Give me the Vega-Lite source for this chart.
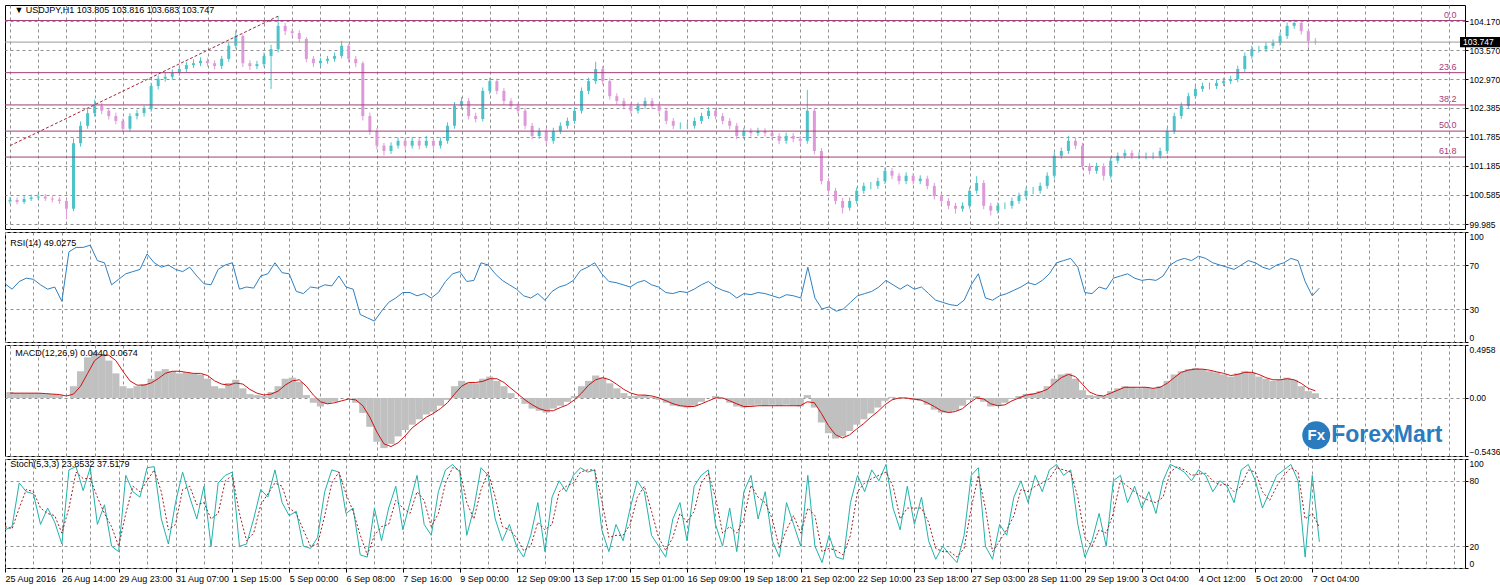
{
"$schema": "https://vega.github.io/schema/vega-lite/v6.json",
"background": "white",
"padding": {"left": 2, "top": 4, "right": 0, "bottom": 0},
"spacing": 3,
"bounds": "flush",
"config": {
  "view": {"stroke": "#000000", "strokeWidth": 1},
  "axis": {"labelFont": "Liberation Sans", "labelFontSize": 9, "labelColor": "#000000", "tickColor": "#000000", "tickSize": 3, "domain": false, "gridColor": "#909090", "gridDash": [3,3], "gridWidth": 1, "gridOpacity": 1, "labelPadding": 1, "tickCount": 200},
  "text": {"font": "Liberation Sans", "fontSize": 9, "color": "#000000"}
},
"datasets": {
  "bars": [
{"i":0,"o":100.45,"h":100.54,"l":100.40,"c":100.48,"rsi":53,"macd":0.055,"sig":0.045,"k":35,"d":38},
{"i":4,"o":100.48,"h":100.53,"l":100.39,"c":100.44,"rsi":48,"macd":0.045,"sig":0.045,"k":38,"d":36},
{"i":8,"o":100.44,"h":100.56,"l":100.40,"c":100.50,"rsi":55,"macd":0.045,"sig":0.045,"k":78,"d":55},
{"i":12,"o":100.50,"h":100.59,"l":100.46,"c":100.53,"rsi":58,"macd":0.045,"sig":0.045,"k":70,"d":72},
{"i":16,"o":100.53,"h":100.61,"l":100.48,"c":100.55,"rsi":57,"macd":0.045,"sig":0.045,"k":68,"d":70},
{"i":20,"o":100.55,"h":100.60,"l":100.46,"c":100.51,"rsi":52,"macd":0.036,"sig":0.041,"k":40,"d":55},
{"i":24,"o":100.51,"h":100.56,"l":100.43,"c":100.49,"rsi":48,"macd":0.036,"sig":0.036,"k":55,"d":50},
{"i":28,"o":100.49,"h":100.54,"l":100.40,"c":100.46,"rsi":50,"macd":0.027,"sig":0.032,"k":42,"d":48},
{"i":32,"o":100.46,"h":100.50,"l":100.08,"c":100.30,"rsi":37,"macd":0,"sig":0.018,"k":22,"d":32},
{"i":36,"o":100.30,"h":101.75,"l":100.25,"c":101.65,"rsi":82,"macd":0.11,"sig":0.036,"k":90,"d":55},
{"i":40,"o":101.65,"h":102.10,"l":101.58,"c":102.01,"rsi":86,"macd":0.25,"sig":0.11,"k":93,"d":88},
{"i":44,"o":102.01,"h":102.35,"l":101.95,"c":102.27,"rsi":86,"macd":0.38,"sig":0.23,"k":71,"d":82},
{"i":48,"o":102.27,"h":102.55,"l":102.20,"c":102.42,"rsi":88,"macd":0.43,"sig":0.35,"k":92,"d":82},
{"i":52,"o":102.42,"h":102.48,"l":102.25,"c":102.32,"rsi":74,"macd":0.41,"sig":0.40,"k":40,"d":65},
{"i":56,"o":102.32,"h":102.38,"l":102.14,"c":102.21,"rsi":72,"macd":0.35,"sig":0.40,"k":58,"d":50},
{"i":60,"o":102.21,"h":102.28,"l":102.04,"c":102.11,"rsi":52,"macd":0.23,"sig":0.35,"k":20,"d":38},
{"i":64,"o":102.11,"h":102.16,"l":101.88,"c":101.95,"rsi":57,"macd":0.11,"sig":0.25,"k":15,"d":20},
{"i":68,"o":101.95,"h":102.27,"l":101.90,"c":102.21,"rsi":62,"macd":0.09,"sig":0.16,"k":85,"d":50},
{"i":72,"o":102.21,"h":102.34,"l":102.14,"c":102.27,"rsi":64,"macd":0.11,"sig":0.12,"k":70,"d":75},
{"i":76,"o":102.27,"h":102.43,"l":102.20,"c":102.36,"rsi":66,"macd":0.13,"sig":0.12,"k":65,"d":70},
{"i":80,"o":102.36,"h":102.90,"l":102.30,"c":102.83,"rsi":80,"macd":0.18,"sig":0.14,"k":92,"d":80},
{"i":84,"o":102.83,"h":103.05,"l":102.76,"c":102.98,"rsi":72,"macd":0.25,"sig":0.18,"k":93,"d":90},
{"i":88,"o":102.98,"h":103.10,"l":102.92,"c":103.02,"rsi":68,"macd":0.27,"sig":0.23,"k":45,"d":70},
{"i":92,"o":103.02,"h":103.17,"l":102.96,"c":103.10,"rsi":70,"macd":0.25,"sig":0.25,"k":22,"d":35},
{"i":96,"o":103.10,"h":103.25,"l":103.04,"c":103.18,"rsi":66,"macd":0.23,"sig":0.25,"k":60,"d":40},
{"i":100,"o":103.18,"h":103.33,"l":103.12,"c":103.26,"rsi":64,"macd":0.24,"sig":0.24,"k":88,"d":72},
{"i":104,"o":103.26,"h":103.38,"l":103.20,"c":103.30,"rsi":68,"macd":0.23,"sig":0.23,"k":65,"d":75},
{"i":108,"o":103.30,"h":103.42,"l":103.24,"c":103.35,"rsi":60,"macd":0.22,"sig":0.23,"k":45,"d":58},
{"i":112,"o":103.35,"h":103.41,"l":103.23,"c":103.30,"rsi":53,"macd":0.18,"sig":0.21,"k":75,"d":60},
{"i":116,"o":103.30,"h":103.36,"l":103.17,"c":103.24,"rsi":52,"macd":0.11,"sig":0.16,"k":20,"d":45},
{"i":120,"o":103.24,"h":103.45,"l":103.18,"c":103.39,"rsi":66,"macd":0.09,"sig":0.13,"k":78,"d":50},
{"i":124,"o":103.39,"h":103.73,"l":103.33,"c":103.66,"rsi":70,"macd":0.14,"sig":0.12,"k":85,"d":80},
{"i":128,"o":103.66,"h":103.98,"l":103.60,"c":103.86,"rsi":72,"macd":0.17,"sig":0.14,"k":88,"d":85},
{"i":132,"o":103.86,"h":103.90,"l":103.22,"c":103.30,"rsi":48,"macd":0.09,"sig":0.13,"k":20,"d":50},
{"i":136,"o":103.30,"h":103.36,"l":103.16,"c":103.24,"rsi":50,"macd":0.036,"sig":0.08,"k":22,"d":25},
{"i":140,"o":103.24,"h":103.35,"l":103.18,"c":103.28,"rsi":49,"macd":0.027,"sig":0.045,"k":45,"d":32},
{"i":144,"o":103.28,"h":103.52,"l":103.22,"c":103.45,"rsi":60,"macd":0.018,"sig":0.027,"k":72,"d":58},
{"i":148,"o":103.45,"h":103.68,"l":102.77,"c":103.59,"rsi":62,"macd":0.055,"sig":0.036,"k":65,"d":68},
{"i":152,"o":103.59,"h":104.27,"l":103.52,"c":104.07,"rsi":72,"macd":0.11,"sig":0.064,"k":90,"d":78},
{"i":156,"o":104.07,"h":104.13,"l":103.88,"c":103.96,"rsi":63,"macd":0.18,"sig":0.12,"k":60,"d":75},
{"i":160,"o":103.96,"h":104.02,"l":103.85,"c":103.92,"rsi":62,"macd":0.19,"sig":0.16,"k":48,"d":55},
{"i":164,"o":103.92,"h":103.98,"l":103.72,"c":103.80,"rsi":46,"macd":0.15,"sig":0.17,"k":52,"d":50},
{"i":168,"o":103.80,"h":103.84,"l":103.32,"c":103.39,"rsi":44,"macd":0.027,"sig":0.11,"k":20,"d":35},
{"i":172,"o":103.39,"h":103.45,"l":103.22,"c":103.30,"rsi":50,"macd":-0.045,"sig":0.027,"k":18,"d":20},
{"i":176,"o":103.30,"h":103.41,"l":103.24,"c":103.35,"rsi":49,"macd":-0.08,"sig":-0.036,"k":28,"d":22},
{"i":180,"o":103.35,"h":103.45,"l":103.29,"c":103.39,"rsi":52,"macd":-0.055,"sig":-0.055,"k":70,"d":48},
{"i":184,"o":103.39,"h":103.52,"l":103.33,"c":103.45,"rsi":51,"macd":-0.036,"sig":-0.045,"k":90,"d":78},
{"i":188,"o":103.45,"h":103.76,"l":103.40,"c":103.66,"rsi":60,"macd":0,"sig":-0.027,"k":88,"d":88},
{"i":192,"o":103.66,"h":103.70,"l":103.32,"c":103.39,"rsi":50,"macd":0,"sig":-0.01,"k":50,"d":68},
{"i":196,"o":103.39,"h":103.45,"l":103.22,"c":103.30,"rsi":48,"macd":-0.045,"sig":-0.018,"k":55,"d":52},
{"i":200,"o":103.30,"h":103.34,"l":102.12,"c":102.21,"rsi":25,"macd":-0.14,"sig":-0.073,"k":12,"d":30},
{"i":204,"o":102.21,"h":102.28,"l":101.82,"c":101.90,"rsi":22,"macd":-0.27,"sig":-0.18,"k":10,"d":12},
{"i":208,"o":101.90,"h":101.96,"l":101.52,"c":101.60,"rsi":19,"macd":-0.41,"sig":-0.32,"k":55,"d":30},
{"i":212,"o":101.60,"h":101.66,"l":101.40,"c":101.49,"rsi":28,"macd":-0.47,"sig":-0.43,"k":25,"d":38},
{"i":216,"o":101.49,"h":101.67,"l":101.43,"c":101.60,"rsi":36,"macd":-0.43,"sig":-0.455,"k":55,"d":40},
{"i":220,"o":101.60,"h":101.77,"l":101.54,"c":101.70,"rsi":40,"macd":-0.36,"sig":-0.42,"k":75,"d":62},
{"i":224,"o":101.70,"h":101.76,"l":101.53,"c":101.60,"rsi":45,"macd":-0.30,"sig":-0.355,"k":35,"d":55},
{"i":228,"o":101.60,"h":101.78,"l":101.54,"c":101.70,"rsi":45,"macd":-0.25,"sig":-0.28,"k":60,"d":50},
{"i":232,"o":101.70,"h":101.76,"l":101.52,"c":101.60,"rsi":42,"macd":-0.20,"sig":-0.23,"k":85,"d":70},
{"i":236,"o":101.60,"h":101.80,"l":101.55,"c":101.70,"rsi":44,"macd":-0.155,"sig":-0.18,"k":40,"d":62},
{"i":240,"o":101.70,"h":101.76,"l":101.53,"c":101.60,"rsi":40,"macd":-0.13,"sig":-0.145,"k":30,"d":38},
{"i":244,"o":101.60,"h":101.77,"l":101.54,"c":101.70,"rsi":45,"macd":-0.073,"sig":-0.10,"k":70,"d":50},
{"i":248,"o":101.70,"h":102.08,"l":101.64,"c":102.01,"rsi":55,"macd":-0.018,"sig":-0.045,"k":90,"d":78},
{"i":252,"o":102.01,"h":102.50,"l":101.95,"c":102.42,"rsi":62,"macd":0.11,"sig":0.036,"k":95,"d":92},
{"i":256,"o":102.42,"h":102.60,"l":102.35,"c":102.52,"rsi":64,"macd":0.16,"sig":0.11,"k":88,"d":90},
{"i":260,"o":102.52,"h":102.58,"l":102.14,"c":102.21,"rsi":55,"macd":0.145,"sig":0.145,"k":30,"d":60},
{"i":264,"o":102.21,"h":102.28,"l":102.08,"c":102.15,"rsi":56,"macd":0.137,"sig":0.145,"k":55,"d":45},
{"i":268,"o":102.15,"h":102.80,"l":102.10,"c":102.73,"rsi":72,"macd":0.18,"sig":0.155,"k":92,"d":72},
{"i":272,"o":102.73,"h":103.00,"l":102.66,"c":102.93,"rsi":70,"macd":0.20,"sig":0.18,"k":85,"d":88},
{"i":276,"o":102.93,"h":102.98,"l":102.66,"c":102.73,"rsi":62,"macd":0.16,"sig":0.18,"k":45,"d":65},
{"i":280,"o":102.73,"h":102.79,"l":102.45,"c":102.52,"rsi":56,"macd":0.11,"sig":0.145,"k":25,"d":38},
{"i":284,"o":102.52,"h":102.58,"l":102.35,"c":102.42,"rsi":52,"macd":0.045,"sig":0.09,"k":40,"d":35},
{"i":288,"o":102.42,"h":102.48,"l":102.25,"c":102.32,"rsi":48,"macd":0,"sig":0.036,"k":20,"d":28},
{"i":292,"o":102.32,"h":102.38,"l":101.94,"c":102.01,"rsi":42,"macd":-0.055,"sig":-0.018,"k":10,"d":16},
{"i":296,"o":102.01,"h":102.07,"l":101.73,"c":101.80,"rsi":40,"macd":-0.10,"sig":-0.064,"k":30,"d":20},
{"i":300,"o":101.80,"h":101.97,"l":101.74,"c":101.90,"rsi":44,"macd":-0.12,"sig":-0.10,"k":60,"d":42},
{"i":304,"o":101.90,"h":101.96,"l":101.62,"c":101.70,"rsi":38,"macd":-0.137,"sig":-0.12,"k":15,"d":35},
{"i":308,"o":101.70,"h":101.97,"l":101.64,"c":101.90,"rsi":46,"macd":-0.10,"sig":-0.12,"k":65,"d":40},
{"i":312,"o":101.90,"h":102.08,"l":101.84,"c":102.01,"rsi":50,"macd":-0.073,"sig":-0.09,"k":80,"d":70},
{"i":316,"o":102.01,"h":102.18,"l":101.95,"c":102.11,"rsi":52,"macd":-0.036,"sig":-0.064,"k":70,"d":75},
{"i":320,"o":102.11,"h":102.39,"l":102.05,"c":102.32,"rsi":56,"macd":0.018,"sig":-0.018,"k":85,"d":78},
{"i":324,"o":102.32,"h":102.80,"l":102.26,"c":102.73,"rsi":65,"macd":0.11,"sig":0.045,"k":92,"d":88},
{"i":328,"o":102.73,"h":103.00,"l":102.66,"c":102.93,"rsi":68,"macd":0.16,"sig":0.12,"k":88,"d":90},
{"i":332,"o":102.93,"h":103.33,"l":102.87,"c":103.18,"rsi":72,"macd":0.21,"sig":0.17,"k":90,"d":90},
{"i":336,"o":103.18,"h":103.24,"l":102.86,"c":102.93,"rsi":62,"macd":0.19,"sig":0.19,"k":35,"d":62},
{"i":340,"o":102.93,"h":102.99,"l":102.55,"c":102.62,"rsi":55,"macd":0.137,"sig":0.17,"k":15,"d":28},
{"i":344,"o":102.62,"h":102.68,"l":102.45,"c":102.52,"rsi":54,"macd":0.09,"sig":0.127,"k":40,"d":30},
{"i":348,"o":102.52,"h":102.58,"l":102.35,"c":102.42,"rsi":52,"macd":0.045,"sig":0.08,"k":25,"d":30},
{"i":352,"o":102.42,"h":102.48,"l":102.25,"c":102.32,"rsi":50,"macd":0.018,"sig":0.045,"k":55,"d":40},
{"i":356,"o":102.32,"h":102.49,"l":102.26,"c":102.42,"rsi":54,"macd":0.018,"sig":0.027,"k":80,"d":65},
{"i":360,"o":102.42,"h":102.59,"l":102.36,"c":102.52,"rsi":56,"macd":0.027,"sig":0.027,"k":70,"d":75},
{"i":364,"o":102.52,"h":102.58,"l":102.35,"c":102.42,"rsi":52,"macd":0.01,"sig":0.018,"k":30,"d":52},
{"i":368,"o":102.42,"h":102.48,"l":102.25,"c":102.32,"rsi":50,"macd":-0.018,"sig":0,"k":20,"d":28},
{"i":372,"o":102.32,"h":102.38,"l":102.04,"c":102.11,"rsi":45,"macd":-0.045,"sig":-0.027,"k":10,"d":16},
{"i":376,"o":102.11,"h":102.17,"l":101.94,"c":102.01,"rsi":44,"macd":-0.073,"sig":-0.055,"k":45,"d":28},
{"i":380,"o":102.01,"h":102.08,"l":101.94,"c":102.01,"rsi":46,"macd":-0.08,"sig":-0.073,"k":60,"d":50},
{"i":384,"o":102.01,"h":102.08,"l":101.94,"c":102.01,"rsi":45,"macd":-0.09,"sig":-0.08,"k":25,"d":42},
{"i":388,"o":102.01,"h":102.18,"l":101.95,"c":102.11,"rsi":48,"macd":-0.073,"sig":-0.08,"k":75,"d":52},
{"i":392,"o":102.11,"h":102.28,"l":102.05,"c":102.21,"rsi":52,"macd":-0.036,"sig":-0.055,"k":85,"d":78},
{"i":396,"o":102.21,"h":102.39,"l":102.15,"c":102.32,"rsi":55,"macd":0,"sig":-0.027,"k":90,"d":87},
{"i":400,"o":102.32,"h":102.38,"l":102.14,"c":102.21,"rsi":50,"macd":0.018,"sig":0,"k":40,"d":65},
{"i":404,"o":102.21,"h":102.27,"l":102.04,"c":102.11,"rsi":47,"macd":-0.01,"sig":0,"k":20,"d":32},
{"i":408,"o":102.11,"h":102.17,"l":101.94,"c":102.01,"rsi":45,"macd":-0.045,"sig":-0.027,"k":55,"d":38},
{"i":412,"o":102.01,"h":102.07,"l":101.73,"c":101.80,"rsi":40,"macd":-0.08,"sig":-0.055,"k":15,"d":32},
{"i":416,"o":101.80,"h":101.97,"l":101.74,"c":101.90,"rsi":44,"macd":-0.09,"sig":-0.08,"k":70,"d":45},
{"i":420,"o":101.90,"h":101.96,"l":101.79,"c":101.86,"rsi":43,"macd":-0.073,"sig":-0.08,"k":85,"d":76},
{"i":424,"o":101.86,"h":101.97,"l":101.80,"c":101.90,"rsi":45,"macd":-0.064,"sig":-0.073,"k":45,"d":65},
{"i":428,"o":101.90,"h":101.96,"l":101.79,"c":101.86,"rsi":44,"macd":-0.073,"sig":-0.073,"k":70,"d":60},
{"i":432,"o":101.86,"h":101.92,"l":101.73,"c":101.80,"rsi":42,"macd":-0.064,"sig":-0.073,"k":25,"d":45},
{"i":436,"o":101.80,"h":101.86,"l":101.63,"c":101.70,"rsi":40,"macd":-0.073,"sig":-0.073,"k":10,"d":18},
{"i":440,"o":101.70,"h":101.87,"l":101.64,"c":101.80,"rsi":43,"macd":-0.064,"sig":-0.073,"k":60,"d":35},
{"i":444,"o":101.80,"h":101.86,"l":101.67,"c":101.74,"rsi":42,"macd":-0.073,"sig":-0.073,"k":40,"d":48},
{"i":448,"o":101.74,"h":101.80,"l":101.62,"c":101.70,"rsi":40,"macd":-0.08,"sig":-0.073,"k":20,"d":32},
{"i":452,"o":101.70,"h":102.75,"l":101.64,"c":102.32,"rsi":68,"macd":0.027,"sig":-0.036,"k":85,"d":55},
{"i":456,"o":102.32,"h":102.38,"l":101.42,"c":101.49,"rsi":40,"macd":-0.09,"sig":-0.045,"k":20,"d":48},
{"i":460,"o":101.49,"h":101.55,"l":100.80,"c":100.87,"rsi":30,"macd":-0.23,"sig":-0.145,"k":5,"d":15},
{"i":464,"o":100.87,"h":100.93,"l":100.60,"c":100.67,"rsi":32,"macd":-0.33,"sig":-0.26,"k":30,"d":18},
{"i":468,"o":100.67,"h":100.73,"l":100.39,"c":100.46,"rsi":28,"macd":-0.38,"sig":-0.345,"k":10,"d":16},
{"i":472,"o":100.46,"h":100.52,"l":100.20,"c":100.32,"rsi":30,"macd":-0.36,"sig":-0.375,"k":8,"d":12},
{"i":476,"o":100.32,"h":100.53,"l":100.26,"c":100.46,"rsi":36,"macd":-0.31,"sig":-0.345,"k":60,"d":30},
{"i":480,"o":100.46,"h":100.74,"l":100.40,"c":100.67,"rsi":42,"macd":-0.25,"sig":-0.29,"k":85,"d":70},
{"i":484,"o":100.67,"h":100.84,"l":100.61,"c":100.77,"rsi":44,"macd":-0.20,"sig":-0.24,"k":70,"d":78},
{"i":488,"o":100.77,"h":100.85,"l":100.70,"c":100.77,"rsi":46,"macd":-0.145,"sig":-0.18,"k":90,"d":82},
{"i":492,"o":100.77,"h":100.94,"l":100.71,"c":100.87,"rsi":50,"macd":-0.09,"sig":-0.127,"k":80,"d":85},
{"i":496,"o":100.87,"h":101.15,"l":100.81,"c":101.08,"rsi":56,"macd":-0.027,"sig":-0.064,"k":95,"d":88},
{"i":500,"o":101.08,"h":101.14,"l":100.91,"c":100.98,"rsi":52,"macd":0.01,"sig":-0.018,"k":55,"d":75},
{"i":504,"o":100.98,"h":101.04,"l":100.80,"c":100.87,"rsi":48,"macd":0,"sig":0,"k":35,"d":45},
{"i":508,"o":100.87,"h":101.05,"l":100.81,"c":100.98,"rsi":52,"macd":0,"sig":0,"k":75,"d":55},
{"i":512,"o":100.98,"h":101.04,"l":100.80,"c":100.87,"rsi":48,"macd":-0.018,"sig":-0.01,"k":40,"d":55},
{"i":516,"o":100.87,"h":100.99,"l":100.81,"c":100.92,"rsi":50,"macd":-0.027,"sig":-0.018,"k":65,"d":55},
{"i":520,"o":100.92,"h":100.98,"l":100.70,"c":100.77,"rsi":44,"macd":-0.064,"sig":-0.045,"k":25,"d":42},
{"i":524,"o":100.77,"h":100.83,"l":100.49,"c":100.56,"rsi":38,"macd":-0.11,"sig":-0.08,"k":8,"d":18},
{"i":528,"o":100.56,"h":100.62,"l":100.39,"c":100.46,"rsi":36,"macd":-0.137,"sig":-0.12,"k":20,"d":15},
{"i":532,"o":100.46,"h":100.52,"l":100.29,"c":100.36,"rsi":34,"macd":-0.137,"sig":-0.137,"k":12,"d":15},
{"i":536,"o":100.36,"h":100.42,"l":100.20,"c":100.30,"rsi":33,"macd":-0.12,"sig":-0.127,"k":5,"d":10},
{"i":540,"o":100.30,"h":100.43,"l":100.24,"c":100.36,"rsi":38,"macd":-0.073,"sig":-0.10,"k":30,"d":18},
{"i":544,"o":100.36,"h":100.74,"l":100.30,"c":100.67,"rsi":52,"macd":-0.018,"sig":-0.045,"k":85,"d":55},
{"i":548,"o":100.67,"h":100.97,"l":100.61,"c":100.83,"rsi":62,"macd":0.018,"sig":0,"k":92,"d":85},
{"i":552,"o":100.83,"h":100.89,"l":100.29,"c":100.36,"rsi":40,"macd":-0.036,"sig":-0.01,"k":20,"d":55},
{"i":556,"o":100.36,"h":100.42,"l":100.16,"c":100.26,"rsi":38,"macd":-0.08,"sig":-0.055,"k":8,"d":15},
{"i":560,"o":100.26,"h":100.43,"l":100.20,"c":100.36,"rsi":42,"macd":-0.073,"sig":-0.073,"k":40,"d":25},
{"i":564,"o":100.36,"h":100.43,"l":100.29,"c":100.36,"rsi":44,"macd":-0.045,"sig":-0.064,"k":30,"d":35},
{"i":568,"o":100.36,"h":100.53,"l":100.30,"c":100.46,"rsi":47,"macd":-0.01,"sig":-0.027,"k":65,"d":48},
{"i":572,"o":100.46,"h":100.63,"l":100.40,"c":100.56,"rsi":50,"macd":0.018,"sig":0,"k":80,"d":72},
{"i":576,"o":100.56,"h":100.74,"l":100.50,"c":100.67,"rsi":54,"macd":0.036,"sig":0.027,"k":60,"d":70},
{"i":580,"o":100.67,"h":100.75,"l":100.60,"c":100.67,"rsi":52,"macd":0.045,"sig":0.036,"k":85,"d":75},
{"i":584,"o":100.67,"h":100.84,"l":100.61,"c":100.77,"rsi":56,"macd":0.064,"sig":0.055,"k":70,"d":78},
{"i":588,"o":100.77,"h":101.05,"l":100.71,"c":100.98,"rsi":62,"macd":0.11,"sig":0.08,"k":90,"d":82},
{"i":592,"o":100.98,"h":101.46,"l":100.92,"c":101.39,"rsi":72,"macd":0.18,"sig":0.137,"k":95,"d":92},
{"i":596,"o":101.39,"h":101.56,"l":101.33,"c":101.49,"rsi":74,"macd":0.22,"sig":0.19,"k":85,"d":90},
{"i":600,"o":101.49,"h":101.80,"l":101.43,"c":101.70,"rsi":76,"macd":0.23,"sig":0.22,"k":90,"d":88},
{"i":604,"o":101.70,"h":101.76,"l":101.53,"c":101.60,"rsi":68,"macd":0.18,"sig":0.20,"k":40,"d":65},
{"i":608,"o":101.60,"h":101.66,"l":101.11,"c":101.18,"rsi":45,"macd":0.073,"sig":0.127,"k":10,"d":28},
{"i":612,"o":101.18,"h":101.24,"l":101.01,"c":101.08,"rsi":44,"macd":0.027,"sig":0.055,"k":25,"d":20},
{"i":616,"o":101.08,"h":101.25,"l":101.02,"c":101.18,"rsi":50,"macd":0.018,"sig":0.027,"k":50,"d":35},
{"i":620,"o":101.18,"h":101.24,"l":100.88,"c":100.98,"rsi":48,"macd":0.018,"sig":0.018,"k":20,"d":32},
{"i":624,"o":100.98,"h":101.36,"l":100.92,"c":101.29,"rsi":58,"macd":0.064,"sig":0.045,"k":80,"d":50},
{"i":628,"o":101.29,"h":101.46,"l":101.23,"c":101.39,"rsi":60,"macd":0.09,"sig":0.073,"k":85,"d":80},
{"i":632,"o":101.39,"h":101.52,"l":101.33,"c":101.45,"rsi":62,"macd":0.11,"sig":0.10,"k":60,"d":75},
{"i":636,"o":101.45,"h":101.51,"l":101.32,"c":101.39,"rsi":58,"macd":0.10,"sig":0.10,"k":75,"d":70},
{"i":640,"o":101.39,"h":101.46,"l":101.32,"c":101.39,"rsi":56,"macd":0.09,"sig":0.10,"k":55,"d":65},
{"i":644,"o":101.39,"h":101.46,"l":101.32,"c":101.39,"rsi":57,"macd":0.10,"sig":0.10,"k":70,"d":62},
{"i":648,"o":101.39,"h":101.46,"l":101.32,"c":101.39,"rsi":56,"macd":0.09,"sig":0.09,"k":50,"d":60},
{"i":652,"o":101.39,"h":101.56,"l":101.33,"c":101.49,"rsi":60,"macd":0.11,"sig":0.10,"k":80,"d":65},
{"i":656,"o":101.49,"h":101.97,"l":101.43,"c":101.90,"rsi":70,"macd":0.16,"sig":0.137,"k":95,"d":88},
{"i":660,"o":101.90,"h":102.28,"l":101.84,"c":102.21,"rsi":74,"macd":0.22,"sig":0.19,"k":92,"d":93},
{"i":664,"o":102.21,"h":102.49,"l":102.15,"c":102.42,"rsi":76,"macd":0.25,"sig":0.24,"k":88,"d":90},
{"i":668,"o":102.42,"h":102.69,"l":102.36,"c":102.62,"rsi":74,"macd":0.27,"sig":0.26,"k":80,"d":85},
{"i":672,"o":102.62,"h":102.84,"l":102.56,"c":102.77,"rsi":78,"macd":0.28,"sig":0.27,"k":90,"d":86},
{"i":676,"o":102.77,"h":102.90,"l":102.71,"c":102.83,"rsi":76,"macd":0.27,"sig":0.27,"k":85,"d":87},
{"i":680,"o":102.83,"h":102.90,"l":102.76,"c":102.83,"rsi":72,"macd":0.25,"sig":0.26,"k":70,"d":80},
{"i":684,"o":102.83,"h":102.96,"l":102.77,"c":102.89,"rsi":70,"macd":0.24,"sig":0.245,"k":80,"d":76},
{"i":688,"o":102.89,"h":103.00,"l":102.83,"c":102.93,"rsi":68,"macd":0.22,"sig":0.23,"k":75,"d":77},
{"i":692,"o":102.93,"h":103.04,"l":102.87,"c":102.97,"rsi":66,"macd":0.20,"sig":0.21,"k":60,"d":70},
{"i":696,"o":102.97,"h":103.25,"l":102.91,"c":103.18,"rsi":70,"macd":0.23,"sig":0.22,"k":90,"d":75},
{"i":700,"o":103.18,"h":103.52,"l":103.12,"c":103.45,"rsi":74,"macd":0.25,"sig":0.24,"k":95,"d":90},
{"i":704,"o":103.45,"h":103.66,"l":103.39,"c":103.59,"rsi":72,"macd":0.24,"sig":0.24,"k":80,"d":88},
{"i":708,"o":103.59,"h":103.66,"l":103.52,"c":103.59,"rsi":68,"macd":0.20,"sig":0.22,"k":55,"d":70},
{"i":712,"o":103.59,"h":103.73,"l":103.53,"c":103.66,"rsi":66,"macd":0.18,"sig":0.19,"k":70,"d":62},
{"i":716,"o":103.66,"h":103.79,"l":103.60,"c":103.72,"rsi":70,"macd":0.16,"sig":0.17,"k":85,"d":75},
{"i":720,"o":103.72,"h":103.93,"l":103.66,"c":103.86,"rsi":72,"macd":0.17,"sig":0.17,"k":90,"d":85},
{"i":724,"o":103.86,"h":104.14,"l":103.80,"c":104.07,"rsi":76,"macd":0.19,"sig":0.18,"k":95,"d":92},
{"i":728,"o":104.07,"h":104.20,"l":104.01,"c":104.13,"rsi":74,"macd":0.17,"sig":0.17,"k":80,"d":88},
{"i":732,"o":104.13,"h":104.19,"l":103.89,"c":103.96,"rsi":55,"macd":0.11,"sig":0.137,"k":10,"d":45},
{"i":736,"o":103.96,"h":104.02,"l":103.62,"c":103.76,"rsi":42,"macd":0.064,"sig":0.09,"k":85,"d":50},
{"i":740,"o":103.76,"h":103.82,"l":103.68,"c":103.75,"rsi":49,"macd":0.044,"sig":0.067,"k":24,"d":37.5}
  ],
  "fib": [
    {"label": "0.0", "price": 104.18},
    {"label": "23.6", "price": 103.105},
    {"label": "38.2", "price": 102.44},
    {"label": "50.0", "price": 101.90},
    {"label": "61.8", "price": 101.365}
  ],
  "trend": [
    {"i": 0, "p": 101.6},
    {"i": 152, "p": 104.27}
  ]
},
"vconcat": [
  {
    "width": 1460, "height": 224,
    "layer": [
      {
        "data": {"name": "bars"},
        "mark": {"type": "rule", "strokeWidth": 1},
        "encoding": {
          "x": {"field": "i", "type": "quantitative", "scale": {"domain": [0, 822], "nice": false, "zero": false},
                "axis": {"title": null, "tickCount": 200, "values": [0,16,32,48,64,80,96,112,128,144,160,176,192,208,224,240,256,272,288,304,320,336,352,368,384,400,416,432,448,464,480,496,512,528,544,560,576,592,608,624,640,656,672,688,704,720,736,752,768,784,800,816], "labels": false, "ticks": false, "grid": true}},
          "y": {"field": "l", "type": "quantitative", "scale": {"domain": [99.882, 104.5], "nice": false, "zero": false},
                "axis": {"title": null, "tickCount": 200, "orient": "right", "values": [99.985, 100.585, 101.185, 101.785, 102.385, 102.97, 103.57, 104.17], "format": ".3f", "grid": true, "labelOverlap": false, "labelFontSize": 8.5}},
          "y2": {"field": "h"},
          "color": {"condition": {"test": "datum.c >= datum.o", "value": "#4cc3c9"}, "value": "#de9ad8"}
        }
      },
      {
        "data": {"name": "bars"},
        "mark": {"type": "bar", "size": 3},
        "encoding": {
          "x": {"field": "i", "type": "quantitative"},
          "y": {"field": "o", "type": "quantitative"},
          "y2": {"field": "c"},
          "color": {"condition": {"test": "datum.c >= datum.o", "value": "#4cc3c9"}, "value": "#de9ad8"}
        }
      },
      {
        "data": {"name": "fib"},
        "mark": {"type": "rule", "color": "#a33c78", "strokeWidth": 1},
        "encoding": {"y": {"field": "price", "type": "quantitative"}}
      },
      {
        "data": {"name": "fib"},
        "mark": {"type": "text", "align": "right", "baseline": "bottom", "dy": -1, "color": "#a33c78"},
        "encoding": {"x": {"datum": 820}, "y": {"field": "price", "type": "quantitative"}, "text": {"field": "label"}}
      },
      {
        "data": {"values": [{"p": 103.735}]},
        "mark": {"type": "rule", "color": "#9a9a9a", "strokeWidth": 1},
        "encoding": {"y": {"field": "p", "type": "quantitative"}}
      },
      {
        "data": {"name": "trend"},
        "mark": {"type": "line", "color": "#9e2a3c", "strokeWidth": 1, "strokeDash": [3, 2]},
        "encoding": {"x": {"field": "i", "type": "quantitative"}, "y": {"field": "p", "type": "quantitative"}}
      },
      {
        "data": {"values": [{"x1": 822, "x2": 845, "y1": 103.84, "y2": 103.63}]},
        "mark": {"type": "rect", "color": "#000000"},
        "encoding": {"x": {"field": "x1", "type": "quantitative"}, "x2": {"field": "x2"}, "y": {"field": "y1", "type": "quantitative"}, "y2": {"field": "y2"}}
      },
      {
        "data": {"values": [{"x": 822, "y": 103.735, "t": "103.747"}]},
        "mark": {"type": "text", "align": "left", "baseline": "middle", "dx": 3, "fontSize": 8.5, "color": "#ffffff"},
        "encoding": {"x": {"field": "x", "type": "quantitative"}, "y": {"field": "y", "type": "quantitative"}, "text": {"field": "t"}}
      },
      {
        "data": {"values": [{"x": 2.5, "y": 104.40, "t": "▼ USDJPY,H1  103.805 103.816 103.683 103.747"}]},
        "mark": {"type": "text", "align": "left", "baseline": "middle"},
        "encoding": {"x": {"field": "x", "type": "quantitative"}, "y": {"field": "y", "type": "quantitative"}, "text": {"field": "t"}}
      }
    ]
  },
  {
    "width": 1460, "height": 110,
    "layer": [
      {
        "data": {"name": "bars"},
        "mark": {"type": "line", "color": "#2f7fc0", "strokeWidth": 1},
        "encoding": {
          "x": {"field": "i", "type": "quantitative", "scale": {"domain": [0, 822], "nice": false, "zero": false},
                "axis": {"title": null, "tickCount": 200, "values": [0,16,32,48,64,80,96,112,128,144,160,176,192,208,224,240,256,272,288,304,320,336,352,368,384,400,416,432,448,464,480,496,512,528,544,560,576,592,608,624,640,656,672,688,704,720,736,752,768,784,800,816], "labels": false, "ticks": false, "grid": true}},
          "y": {"field": "rsi", "type": "quantitative", "scale": {"domain": [0, 100], "nice": false},
                "axis": {"title": null, "tickCount": 200, "orient": "right", "values": [0, 30, 70, 100], "format": "d", "labelFlush": true, "labelOverlap": false, "labelFontSize": 8.5, "grid": true}}
        }
      },
      {
        "data": {"values": [{"x": 3, "y": 90, "t": "RSI(14) 49.0275"}]},
        "mark": {"type": "text", "align": "left", "baseline": "middle"},
        "encoding": {"x": {"field": "x", "type": "quantitative"}, "y": {"field": "y", "type": "quantitative"}, "text": {"field": "t"}}
      }
    ]
  },
  {
    "width": 1460, "height": 111,
    "layer": [
      {
        "data": {"name": "bars"},
        "mark": {"type": "bar", "size": 7.2, "color": "#c0c0c0"},
        "encoding": {
          "x": {"field": "i", "type": "quantitative", "scale": {"domain": [0, 822], "nice": false, "zero": false},
                "axis": {"title": null, "tickCount": 200, "values": [0,16,32,48,64,80,96,112,128,144,160,176,192,208,224,240,256,272,288,304,320,336,352,368,384,400,416,432,448,464,480,496,512,528,544,560,576,592,608,624,640,656,672,688,704,720,736,752,768,784,800,816], "labels": false, "ticks": false, "grid": true}},
          "y": {"field": "macd", "type": "quantitative", "scale": {"domain": [-0.5436, 0.4958], "nice": false},
                "axis": {"title": null, "tickCount": 200, "orient": "right", "values": [-0.5436, 0, 0.4958], "labelFlush": true, "labelOverlap": false, "labelFontSize": 8.5, "grid": true, "labelExpr": "datum.value == 0 ? '0.00' : format(datum.value, '.4f')"}}
        }
      },
      {
        "data": {"name": "bars"},
        "mark": {"type": "line", "color": "#cc1111", "strokeWidth": 1},
        "encoding": {"x": {"field": "i", "type": "quantitative"}, "y": {"field": "sig", "type": "quantitative"}}
      },
      {
        "data": {"values": [{"x": 3, "y": 0.42, "t": "MACD(12,26,9) 0.0440 0.0674"}]},
        "mark": {"type": "text", "align": "left", "baseline": "middle"},
        "encoding": {"x": {"field": "x", "type": "quantitative"}, "y": {"field": "y", "type": "quantitative"}, "text": {"field": "t"}}
      },
      {
        "data": {"values": [{"x": 740.5, "y": -0.35}]},
        "mark": {"type": "point", "shape": "circle", "filled": true, "size": 780, "color": "#2b7bbf", "opacity": 1},
        "encoding": {"x": {"field": "x", "type": "quantitative"}, "y": {"field": "y", "type": "quantitative"}}
      },
      {
        "data": {"values": [{"x": 740.5, "y": -0.35, "t": "Fx"}]},
        "mark": {"type": "text", "align": "center", "baseline": "middle", "fontSize": 15, "fontWeight": "bold", "color": "#ffffff"},
        "encoding": {"x": {"field": "x", "type": "quantitative"}, "y": {"field": "y", "type": "quantitative"}, "text": {"field": "t"}}
      },
      {
        "data": {"values": [{"x": 749, "y": -0.35, "t": "ForexMart"}]},
        "mark": {"type": "text", "align": "left", "baseline": "middle", "fontSize": 23, "fontWeight": "bold", "color": "#2b7bbf"},
        "encoding": {"x": {"field": "x", "type": "quantitative"}, "y": {"field": "y", "type": "quantitative"}, "text": {"field": "t"}}
      }
    ]
  },
  {
    "width": 1460, "height": 109,
    "layer": [
      {
        "data": {"name": "bars"},
        "mark": {"type": "line", "color": "#20b2aa", "strokeWidth": 1},
        "encoding": {
          "x": {"field": "i", "type": "quantitative", "scale": {"domain": [0, 822], "nice": false, "zero": false},
                "axis": {"title": null, "tickCount": 200, "values": [0,16,32,48,64,80,96,112,128,144,160,176,192,208,224,240,256,272,288,304,320,336,352,368,384,400,416,432,448,464,480,496,512,528,544,560,576,592,608,624,640,656,672,688,704,720,736,752,768,784,800,816], "grid": true, "labelAlign": "left", "labelOverlap": false, "labelFlush": false, "labelPadding": 2, "tickSize": 4,
                         "tickOpacity": {"condition": {"test": "datum.value % 32 == 0 && datum.value <= 736", "value": 1}, "value": 0},
                         "labelExpr": "(datum.value % 32 == 0 && datum.value <= 736) ? ['25 Aug 2016','26 Aug 14:00','29 Aug 23:00','31 Aug 07:00','1 Sep 15:00','5 Sep 00:00','6 Sep 08:00','7 Sep 16:00','9 Sep 00:00','12 Sep 09:00','13 Sep 17:00','15 Sep 01:00','16 Sep 09:00','19 Sep 18:00','21 Sep 02:00','22 Sep 10:00','23 Sep 18:00','27 Sep 03:00','28 Sep 11:00','29 Sep 19:00','3 Oct 04:00','4 Oct 12:00','5 Oct 20:00','7 Oct 04:00'][datum.value / 32] : ''"}},
          "y": {"field": "k", "type": "quantitative", "scale": {"domain": [0, 100], "nice": false},
                "axis": {"title": null, "tickCount": 200, "orient": "right", "values": [0, 20, 80, 100], "format": "d", "labelFlush": true, "labelOverlap": false, "labelFontSize": 8.5, "grid": true}}
        }
      },
      {
        "data": {"name": "bars"},
        "mark": {"type": "line", "color": "#a02020", "strokeWidth": 1, "strokeDash": [2, 2]},
        "encoding": {"x": {"field": "i", "type": "quantitative"}, "y": {"field": "d", "type": "quantitative"}}
      },
      {
        "data": {"values": [{"x": 3, "y": 95, "t": "Stoch(5,3,3) 23.8532 37.5179"}]},
        "mark": {"type": "text", "align": "left", "baseline": "middle"},
        "encoding": {"x": {"field": "x", "type": "quantitative"}, "y": {"field": "y", "type": "quantitative"}, "text": {"field": "t"}}
      }
    ]
  }
]
}
